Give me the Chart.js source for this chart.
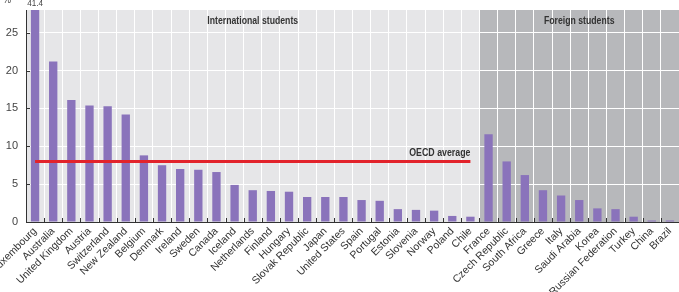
<!DOCTYPE html>
<html>
<head>
<meta charset="utf-8">
<script src="https://cdn.jsdelivr.net/npm/chart.js@4"></script>
<style>
  html, body { margin: 0; padding: 0; background: #fff; }
  #wrap { width: 679px; height: 292px; position: relative; }
</style>
</head>
<body>
<div id="wrap"><canvas id="studentsChart"></canvas></div>
<script>
const countries = ["Luxembourg", "Australia", "United Kingdom", "Austria", "Switzerland", "New Zealand", "Belgium", "Denmark", "Ireland", "Sweden", "Canada", "Iceland", "Netherlands", "Finland", "Hungary", "Slovak Republic", "Japan", "United States", "Spain", "Portugal", "Estonia", "Slovenia", "Norway", "Poland", "Chile",
  "France", "Czech Republic", "South Africa", "Greece", "Italy", "Saudi Arabia", "Korea", "Russian Federation", "Turkey", "China", "Brazil"];
const shares = [41.4, 21.2, 16.1, 15.4, 15.3, 14.2, 8.8, 7.5, 7.0, 6.9, 6.6, 4.9, 4.2, 4.1, 4.0, 3.3, 3.3, 3.3, 2.9, 2.8, 1.7, 1.6, 1.5, 0.8, 0.7,
  11.6, 8.0, 6.2, 4.2, 3.5, 2.9, 1.8, 1.7, 0.7, 0.2, 0.2];
const internationalCount = 25;
const oecdAverage = 8.0;
const yTicks = [0, 5, 10, 15, 20, 25];
const yMax = 28;

const avgLine = countries.map((c, i) => i < internationalCount ? oecdAverage : null);

const FONT = '"Liberation Sans", "DejaVu Sans", sans-serif';

// draw text squeezed horizontally to look like a condensed face
function narrowText(ctx, text, x, y, align, squeeze) {
    ctx.save();
    ctx.translate(x, y);
    ctx.scale(squeeze, 1);
    ctx.textAlign = align;
    ctx.fillText(text, 0, 0);
    ctx.restore();
}

const backdrop = {
    id: 'backdrop',
    beforeDraw(chart) {
        const { ctx, chartArea: a, scales: { x } } = chart;
        const split = (x.getPixelForValue(internationalCount - 1) + x.getPixelForValue(internationalCount)) / 2;
        ctx.save();
        ctx.fillStyle = '#e6e6e8';
        ctx.fillRect(a.left, a.top, split - a.left, a.bottom - a.top);
        ctx.fillStyle = '#b7b8bb';
        ctx.fillRect(split, a.top, a.right - split, a.bottom - a.top);
        ctx.restore();
    },
    afterDraw(chart) {
        const { ctx, chartArea: a, scales: { x, y } } = chart;
        const split = (x.getPixelForValue(internationalCount - 1) + x.getPixelForValue(internationalCount)) / 2;
        ctx.save();
        // small tick marks on the category axis
        ctx.strokeStyle = '#333';
        ctx.lineWidth = 1;
        const step = x.getPixelForValue(1) - x.getPixelForValue(0);
        for (let i = 1; i < countries.length; i++) {
            const px = Math.round(x.getPixelForValue(i) - step / 2) + 0.5;
            ctx.beginPath();
            ctx.moveTo(px, a.bottom);
            ctx.lineTo(px, a.bottom - 4);
            ctx.stroke();
        }
        yTicks.forEach(v => {
            const py = Math.round(y.getPixelForValue(v)) + 0.5;
            ctx.beginPath();
            ctx.moveTo(a.left, py);
            ctx.lineTo(a.left + 4, py);
            ctx.stroke();
        });
        // headers
        ctx.fillStyle = '#333';
        ctx.font = 'bold 11px ' + FONT;
        ctx.textBaseline = 'middle';
        narrowText(ctx, 'International students', (a.left + split) / 2, a.top + 11, 'center', 0.79);
        narrowText(ctx, 'Foreign students', (split + a.right) / 2, a.top + 11, 'center', 0.79);
        // OECD average label
        ctx.textBaseline = 'alphabetic';
        narrowText(ctx, 'OECD average', x.getPixelForValue(internationalCount - 1), y.getPixelForValue(oecdAverage) - 5, 'right', 0.8);
        // off-scale value and unit
        ctx.font = '9px ' + FONT;
        ctx.fillStyle = '#444';
        narrowText(ctx, String(shares[0]), x.getPixelForValue(0), a.top - 4, 'center', 0.9);
        ctx.font = '10px ' + FONT;
        narrowText(ctx, '%', 7, 3, 'center', 0.9);
        ctx.restore();
    }
};

new Chart(document.getElementById('studentsChart'), {
    data: {
        labels: countries,
        datasets: [{
            type: 'line',
            data: avgLine,
            borderColor: '#e2232b',
            borderWidth: 3,
            pointRadius: 0,
            fill: false,
            order: 0
        }, {
            type: 'bar',
            data: shares,
            backgroundColor: '#8a73bb',
            barPercentage: 0.92,
            categoryPercentage: 0.5,
            order: 1
        }]
    },
    options: {
        responsive: true,
        maintainAspectRatio: false,
        animation: false,
        layout: { padding: { top: 10, right: 0, left: 0, bottom: 0 } },
        plugins: { legend: { display: false }, tooltip: { enabled: false } },
        scales: {
            x: {
                offset: true,
                grid: { color: '#ffffff', lineWidth: 1, offset: true, drawTicks: false },
                border: { color: '#333', width: 1 },
                ticks: {
                    autoSkip: false,
                    minRotation: 45,
                    maxRotation: 45,
                    padding: 3,
                    color: '#333',
                    font: { family: FONT, size: 10.5 }
                },
                afterFit: s => { s.height = 70; s.paddingLeft = 0; s.paddingRight = 0; }
            },
            y: {
                min: 0,
                max: yMax,
                grid: { color: '#ffffff', lineWidth: 1, drawTicks: false },
                border: { color: '#333', width: 1 },
                ticks: {
                    stepSize: 5,
                    padding: 8,
                    color: '#444',
                    font: { family: FONT, size: 11 }
                },
                afterBuildTicks: s => { s.ticks = yTicks.map(v => ({ value: v })); },
                afterFit: s => { s.width = 26; s.paddingTop = 0; s.paddingBottom = 0; }
            }
        }
    },
    plugins: [backdrop]
});
</script>
</body>
</html>
